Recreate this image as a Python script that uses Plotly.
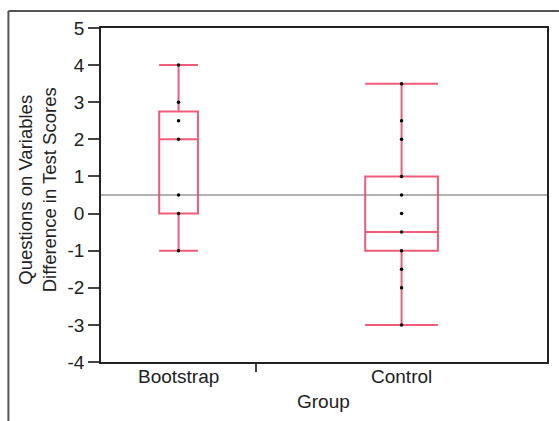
import plotly.graph_objects as go

# ---- data ----
groups = ["Bootstrap", "Control"]
group_n = [8, 15]
q1 = [0.0, -1.0]
median = [2.0, -0.5]
q3 = [2.75, 1.0]
lower_whisker = [-1.0, -3.0]
upper_whisker = [4.0, 3.5]
bootstrap_points = [4, 3, 2.5, 2, 0.5, 0, -1]
control_points = [3.5, 2.5, 2, 1, 0.5, 0, -0.5, -1, -1.5, -2, -3]
grand_mean = 0.5
y_ticks = [-4, -3, -2, -1, 0, 1, 2, 3, 4, 5]
y_tick_labels = ["-4", "-3", "-2", "-1", "0", "1", "2", "3", "4", "5"]

# ---- layout helpers ----
W, H = 559, 421
L, R, T, B = 101, 10, 28, 59
PW, PH = W - L - R, H - T - B

def px_x(p):
    return (p - L) / PW

def px_y(p):
    return (H - B - p) / PH

total_n = sum(group_n)
centers, bounds = [], []
acc = 0
for n in group_n:
    centers.append(acc + n / 2)
    acc += n
    bounds.append(acc)

BOX_COLOR = "rgba(238,70,102,0.88)"
FONT = "Liberation Sans, Arial, Helvetica, sans-serif"
TXT = "#222222"

fig = go.Figure()
for i, g in enumerate(groups):
    fig.add_trace(go.Box(
        x=[centers[i]], q1=[q1[i]], median=[median[i]], q3=[q3[i]],
        lowerfence=[lower_whisker[i]], upperfence=[upper_whisker[i]],
        width=group_n[i] / 4, whiskerwidth=1,
        fillcolor="rgba(0,0,0,0)", line=dict(color=BOX_COLOR, width=2),
        boxpoints=False, name=g, showlegend=False, hoverinfo="skip",
    ))

pts = [bootstrap_points, control_points]
for i, vals in enumerate(pts):
    fig.add_trace(go.Scatter(
        x=[centers[i]] * len(vals), y=vals, mode="markers",
        marker=dict(color="black", size=3.5), showlegend=False,
    ))

# grand mean line
fig.add_shape(type="line", xref="paper", yref="y", x0=0, x1=1,
              y0=grand_mean, y1=grand_mean,
              line=dict(color="#9a9a9a", width=1.5), layer="below")

# outer frame (top and left)
fig.add_shape(type="line", xref="paper", yref="paper",
              x0=px_x(8), x1=px_x(W + 2), y0=px_y(11), y1=px_y(11),
              line=dict(color="#555555", width=2))
fig.add_shape(type="line", xref="paper", yref="paper",
              x0=px_x(8), x1=px_x(8), y0=px_y(11), y1=px_y(H + 2),
              line=dict(color="#555555", width=2))

# category labels
for i, g in enumerate(groups):
    fig.add_annotation(text=g, xref="x", yref="paper", x=centers[i], y=px_y(376),
                       xanchor="center", yanchor="middle", showarrow=False,
                       font=dict(family=FONT, size=19, color=TXT))

fig.add_annotation(text="Questions on Variables<br>Difference in Test Scores",
                   xref="paper", yref="paper", x=px_x(37), y=px_y(190),
                   xanchor="center", yanchor="middle",
                   textangle=-90, showarrow=False,
                   font=dict(family=FONT, size=18.5, color=TXT))
fig.add_annotation(text="Group", xref="paper", yref="paper",
                   x=px_x(324), y=px_y(401), xanchor="center", yanchor="middle",
                   showarrow=False,
                   font=dict(family=FONT, size=19, color=TXT))

fig.update_layout(
    width=W, height=H,
    margin=dict(l=L, r=R, t=T, b=B),
    paper_bgcolor="white", plot_bgcolor="white",
    font=dict(family=FONT, size=19, color=TXT),
    xaxis=dict(range=[0, total_n], tickvals=bounds[:-1],
               ticks="outside", ticklen=8, tickwidth=1.5, tickcolor="#444444",
               showticklabels=False, showgrid=False, zeroline=False,
               showline=True, mirror=True, linecolor="#222222", linewidth=1.5),
    yaxis=dict(range=[-4, 5], tickvals=y_ticks, ticktext=y_tick_labels,
               ticks="outside", ticklen=11,
               tickwidth=1.5, tickcolor="#444444",
               showgrid=False, zeroline=False,
               showline=True, mirror=True, linecolor="#222222", linewidth=1.5),
)

fig.write_html("out.html", config={"displayModeBar": False},
               post_script="document.body.style.margin='0';document.body.style.overflow='hidden';")
